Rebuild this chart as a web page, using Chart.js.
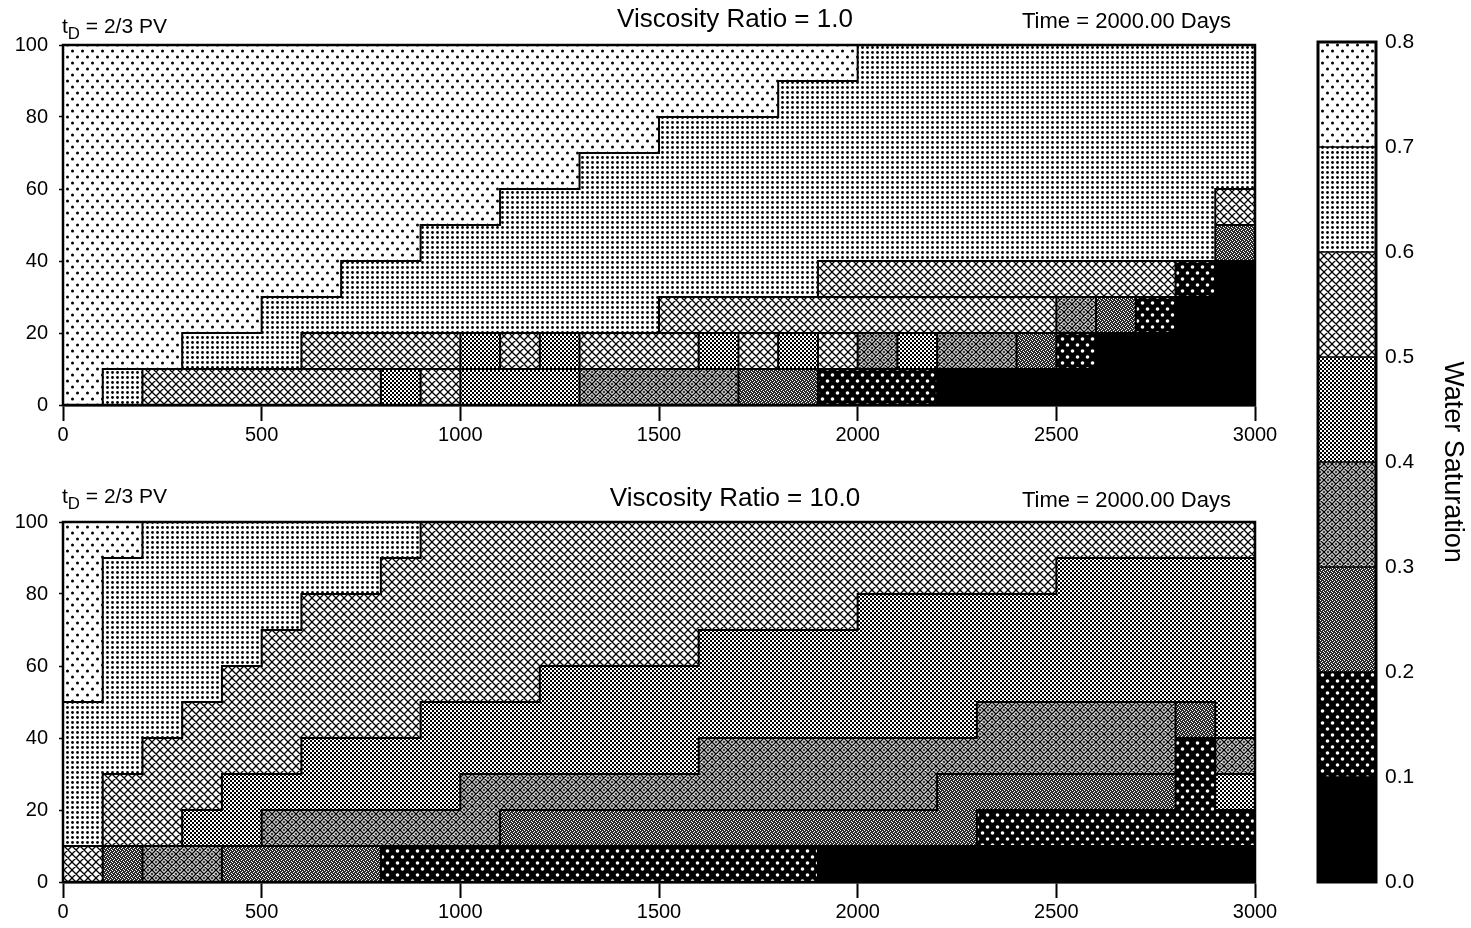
<!DOCTYPE html>
<html>
<head>
<meta charset="utf-8">
<script src="https://cdn.jsdelivr.net/npm/chart.js@4.4.1/dist/chart.umd.min.js"></script>
<style>
  html, body { margin:0; padding:0; background:#fff; }
  body { width:1471px; height:928px; overflow:hidden; position:relative; font-family:"Liberation Sans", Arial, Helvetica, sans-serif; color:#000; }
  canvas { position:absolute; }
  .t { position:absolute; white-space:nowrap; line-height:1.15; }
  .t sub { font-size:0.8em; vertical-align:-0.35em; line-height:0; }
</style>
</head>
<body>
<canvas id="c1" width="1290" height="460" style="left:0;top:0"></canvas>
<canvas id="c2" width="1290" height="458" style="left:0;top:470px"></canvas>
<canvas id="cb" width="171" height="928" style="left:1300px;top:0"></canvas>

<div class="t" style="left:62px;top:14px;font-size:21px">t<sub>D</sub> = 2/3 PV</div>
<div class="t" style="left:535px;width:400px;text-align:center;top:4px;font-size:26px">Viscosity Ratio = 1.0</div>
<div class="t" style="left:1022px;top:8px;font-size:22px">Time = 2000.00 Days</div>

<div class="t" style="left:62px;top:484px;font-size:21px">t<sub>D</sub> = 2/3 PV</div>
<div class="t" style="left:535px;width:400px;text-align:center;top:483px;font-size:26px">Viscosity Ratio = 10.0</div>
<div class="t" style="left:1022px;top:487px;font-size:22px">Time = 2000.00 Days</div>

<script>
// ---------------- data ----------------
const cellSize = 100;          // x width of one grid cell
const rowSize = 10;            // y height of one grid cell
const xTicks = [0, 500, 1000, 1500, 2000, 2500, 3000];
const yTicks = [0, 20, 40, 60, 80, 100];
const satBounds = [0.0, 0.1, 0.2, 0.3, 0.4, 0.5, 0.6, 0.7, 0.8];

// Saturation class per cell (0 = 0.0-0.1 ... 7 = 0.7-0.8), rows from y=0 upward, 30 columns of 100
// Viscosity Ratio = 1.0
const v1_r0 = [7,6,5,5,5,5,5,5,4,5, 4,4,4,3,3,3,3,2,2,1, 1,1,0,0,0,0,0,0,0,0];
const v1_r1 = [7,7,7,6,6,6,5,5,5,5, 4,5,4,5,5,5,4,5,4,5, 3,4,3,3,2,1,0,0,0,0];
const v1_r2 = [7,7,7,7,7,6,6,6,6,6, 6,6,6,6,6,5,5,5,5,5, 5,5,5,5,5,3,2,1,0,0];
const v1_r3 = [7,7,7,7,7,7,7,6,6,6, 6,6,6,6,6,6,6,6,6,5, 5,5,5,5,5,5,5,5,1,0];
const v1_r4 = [7,7,7,7,7,7,7,7,7,6, 6,6,6,6,6,6,6,6,6,6, 6,6,6,6,6,6,6,6,6,2];
const v1_r5 = [7,7,7,7,7,7,7,7,7,7, 7,6,6,6,6,6,6,6,6,6, 6,6,6,6,6,6,6,6,6,5];
const v1_r6 = [7,7,7,7,7,7,7,7,7,7, 7,7,7,6,6,6,6,6,6,6, 6,6,6,6,6,6,6,6,6,6];
const v1_r7 = [7,7,7,7,7,7,7,7,7,7, 7,7,7,7,7,6,6,6,6,6, 6,6,6,6,6,6,6,6,6,6];
const v1_r8 = [7,7,7,7,7,7,7,7,7,7, 7,7,7,7,7,7,7,7,6,6, 6,6,6,6,6,6,6,6,6,6];
const v1_r9 = [7,7,7,7,7,7,7,7,7,7, 7,7,7,7,7,7,7,7,7,7, 6,6,6,6,6,6,6,6,6,6];

// Viscosity Ratio = 10.0
const v10_r0 = [5,2,3,3,2,2,2,2,1,1, 1,1,1,1,1,1,1,1,1,0, 0,0,0,0,0,0,0,0,0,0];
const v10_r1 = [6,5,5,4,4,3,3,3,3,3, 3,2,2,2,2,2,2,2,2,2, 2,2,2,1,1,1,1,1,1,1];
const v10_r2 = [6,5,5,5,4,4,4,4,4,4, 3,3,3,3,3,3,3,3,3,3, 3,3,2,2,2,2,2,2,1,4];
const v10_r3 = [6,6,5,5,5,5,4,4,4,4, 4,4,4,4,4,4,3,3,3,3, 3,3,3,3,3,3,3,3,1,3];
const v10_r4 = [6,6,6,5,5,5,5,5,5,4, 4,4,4,4,4,4,4,4,4,4, 4,4,4,3,3,3,3,3,2,4];
const v10_r5 = [7,6,6,6,5,5,5,5,5,5, 5,5,4,4,4,4,4,4,4,4, 4,4,4,4,4,4,4,4,4,4];
const v10_r6 = [7,6,6,6,6,5,5,5,5,5, 5,5,5,5,5,5,4,4,4,4, 4,4,4,4,4,4,4,4,4,4];
const v10_r7 = [7,6,6,6,6,6,5,5,5,5, 5,5,5,5,5,5,5,5,5,5, 4,4,4,4,4,4,4,4,4,4];
const v10_r8 = [7,6,6,6,6,6,6,6,5,5, 5,5,5,5,5,5,5,5,5,5, 5,5,5,5,5,4,4,4,4,4];
const v10_r9 = [7,7,6,6,6,6,6,6,6,5, 5,5,5,5,5,5,5,5,5,5, 5,5,5,5,5,5,5,5,5,5];

const v1Rows  = [v1_r0, v1_r1, v1_r2, v1_r3, v1_r4, v1_r5, v1_r6, v1_r7, v1_r8, v1_r9];
const v10Rows = [v10_r0, v10_r1, v10_r2, v10_r3, v10_r4, v10_r5, v10_r6, v10_r7, v10_r8, v10_r9];

// ---------------- styles ----------------
const FONT = '"Liberation Sans", Arial, Helvetica, sans-serif';

function makePattern(level) {
  const c = document.createElement('canvas');
  const g = c.getContext('2d');
  const dot = (x, y, r, col) => { g.fillStyle = col; g.beginPath(); g.arc(x, y, r, 0, Math.PI * 2); g.fill(); };
  const hatch = (s, w) => {
    g.strokeStyle = '#000'; g.lineWidth = w; g.beginPath();
    for (const o of [-s, 0, s]) {
      g.moveTo(o - 2, -2); g.lineTo(o + s + 2, s + 2);
      g.moveTo(o + s + 2, -2); g.lineTo(o - 2, s + 2);
    }
    g.stroke();
  };
  if (level === 7) {
    c.width = 10; c.height = 12; g.fillStyle = '#fff'; g.fillRect(0, 0, 10, 12);
    dot(2.5, 3, 1.5, '#000'); dot(7.5, 9, 1.5, '#000');
  } else if (level === 6) {
    c.width = 5; c.height = 5; g.fillStyle = '#fff'; g.fillRect(0, 0, 5, 5);
    dot(2.5, 2.5, 1.4, '#000');
  } else if (level === 5) {
    c.width = 8; c.height = 8; g.fillStyle = '#fff'; g.fillRect(0, 0, 8, 8);
    hatch(8, 1.3);
  } else if (level === 4) {
    c.width = 4; c.height = 4; g.fillStyle = '#fff'; g.fillRect(0, 0, 4, 4);
    g.fillStyle = '#000'; g.fillRect(0, 0, 2, 2); g.fillRect(2, 2, 2, 2);
  } else if (level === 3) {
    c.width = 8; c.height = 8; g.fillStyle = '#fff'; g.fillRect(0, 0, 8, 8);
    hatch(8, 1.4);
    g.fillStyle = '#000';
    for (const [px, py] of [[4, 0], [4, 8], [0, 4], [8, 4]]) {
      g.fillRect(px - 1.5, py - 0.5, 3, 1); g.fillRect(px - 0.5, py - 1.5, 1, 3);
    }
  } else if (level === 2) {
    c.width = 4; c.height = 4; g.fillStyle = '#2a2a2a'; g.fillRect(0, 0, 4, 4);
    g.fillStyle = '#fff';
    g.fillRect(0, 0, 1, 1); g.fillRect(2, 1, 1, 1); g.fillRect(1, 2, 1, 1); g.fillRect(3, 3, 1, 1);
  } else if (level === 1) {
    c.width = 10; c.height = 12; g.fillStyle = '#000'; g.fillRect(0, 0, 10, 12);
    dot(2.5, 3, 1.8, '#fff'); dot(7.5, 9, 1.8, '#fff');
  } else {
    return '#000';
  }
  return g.createPattern(c, 'repeat');
}
const patterns = satBounds.slice(0, -1).map((_, lv) => makePattern(lv));

function buildDatasets(rows) {
  const sets = satBounds.slice(0, -1).map((_, lv) => ({
    label: 'Sw ' + satBounds[lv].toFixed(1) + '-' + satBounds[lv + 1].toFixed(1),
    data: [], backgroundColor: patterns[lv], borderWidth: 0,
    grouped: false, barPercentage: 1, categoryPercentage: 1
  }));
  rows.forEach((row, r) => {
    let start = 0;
    for (let c = 1; c <= row.length; c++) {
      if (c === row.length || row[c] !== row[start]) {
        sets[row[start]].data.push({ x: [start * cellSize, c * cellSize], y: r * rowSize + rowSize / 2 });
        start = c;
      }
    }
  });
  return sets;
}

function boundsPlugin(rows, boxedBelow) {
  return {
    id: 'bounds',
    afterDatasetsDraw(chart) {
      const { ctx, scales: { x, y } } = chart;
      const nR = rows.length, nC = rows[0].length;
      ctx.save();
      ctx.strokeStyle = '#000'; ctx.lineWidth = 2; ctx.lineCap = 'square';
      ctx.beginPath();
      for (let r = 0; r < nR; r++) {
        for (let c = 0; c < nC; c++) {
          const lv = rows[r][c];
          if (c + 1 < nC && rows[r][c + 1] !== lv) {
            const px = x.getPixelForValue((c + 1) * cellSize);
            ctx.moveTo(px, y.getPixelForValue(r * rowSize));
            ctx.lineTo(px, y.getPixelForValue((r + 1) * rowSize));
          }
          if (r + 1 < nR) {
            const up = rows[r + 1][c];
            const boxed = r < boxedBelow && lv >= 1 && lv <= 5 && up >= 1 && up <= 5;
            if (up !== lv || boxed) {
              const py = y.getPixelForValue((r + 1) * rowSize);
              ctx.moveTo(x.getPixelForValue(c * cellSize), py);
              ctx.lineTo(x.getPixelForValue((c + 1) * cellSize), py);
            }
          }
        }
      }
      ctx.stroke();
      ctx.restore();
    }
  };
}

const framePlugin = (w) => ({
  id: 'frame',
  afterDatasetsDraw(chart) {
    const a = chart.chartArea, ctx = chart.ctx;
    ctx.save(); ctx.strokeStyle = '#000'; ctx.lineWidth = w;
    ctx.strokeRect(a.left, a.top, a.right - a.left, a.bottom - a.top);
    ctx.restore();
  }
});

function fieldChart(id, rows, padTop, axisH, boxedBelow) {
  return new Chart(document.getElementById(id), {
    type: 'bar',
    data: { datasets: buildDatasets(rows) },
    options: {
      indexAxis: 'y', responsive: false, animation: false, events: [],
      layout: { padding: { left: 0, right: 35, top: padTop, bottom: 0 } },
      plugins: { legend: { display: false }, tooltip: { enabled: false } },
      scales: {
        x: {
          type: 'linear', min: xTicks[0], max: xTicks[xTicks.length - 1], offset: false,
          afterBuildTicks(s) { s.ticks = xTicks.map(v => ({ value: v })); },
          ticks: { color: '#000', font: { family: FONT, size: 20 }, padding: 2, maxRotation: 0, autoSkip: false, callback: v => String(v) },
          grid: { drawOnChartArea: false, offset: false, color: '#000', tickLength: 16, tickWidth: 2 },
          border: { color: '#000', width: 2.5 },
          afterFit(s) { s.height = axisH; }
        },
        y: {
          type: 'linear', min: yTicks[0], max: yTicks[yTicks.length - 1], offset: false,
          afterBuildTicks(s) { s.ticks = yTicks.map(v => ({ value: v })); },
          ticks: { color: '#000', font: { family: FONT, size: 20 }, padding: 11, autoSkip: false, callback: v => String(v) },
          grid: { drawOnChartArea: false, offset: false, color: '#000', tickLength: 4, tickWidth: 1.5 },
          border: { color: '#000', width: 2.5 },
          afterFit(s) { s.width = 63; }
        }
      }
    },
    plugins: [boundsPlugin(rows, boxedBelow), framePlugin(2.5)]
  });
}

fieldChart('c1', v1Rows, 45, 55, 3);
fieldChart('c2', v10Rows, 52, 46, 0);

// colour bar
new Chart(document.getElementById('cb'), {
  type: 'bar',
  data: {
    labels: ['Water Saturation'],
    datasets: satBounds.slice(0, -1).map((lo, i) => ({
      data: [[lo, satBounds[i + 1]]], backgroundColor: patterns[i],
      borderColor: '#000', borderWidth: 1, borderSkipped: false,
      grouped: false, barPercentage: 1, categoryPercentage: 1
    }))
  },
  options: {
    responsive: false, animation: false, events: [],
    layout: { padding: { left: 18, right: 0, top: 42, bottom: 46 } },
    plugins: { legend: { display: false }, tooltip: { enabled: false } },
    scales: {
      x: { display: false, offset: true },
      y: {
        position: 'right', min: satBounds[0], max: satBounds[satBounds.length - 1],
        afterBuildTicks(s) { s.ticks = satBounds.map(v => ({ value: v })); },
        ticks: { color: '#000', font: { family: FONT, size: 21 }, padding: 9, callback: v => Number(v).toFixed(1) },
        grid: { display: false, drawTicks: false, tickLength: 0 },
        border: { display: false },
        title: { display: true, text: 'Water Saturation', color: '#000', font: { family: FONT, size: 27 }, padding: { top: 2, bottom: 0 } },
        afterFit(s) { s.width = 95; }
      }
    }
  },
  plugins: [framePlugin(3)]
});
</script>
</body>
</html>
